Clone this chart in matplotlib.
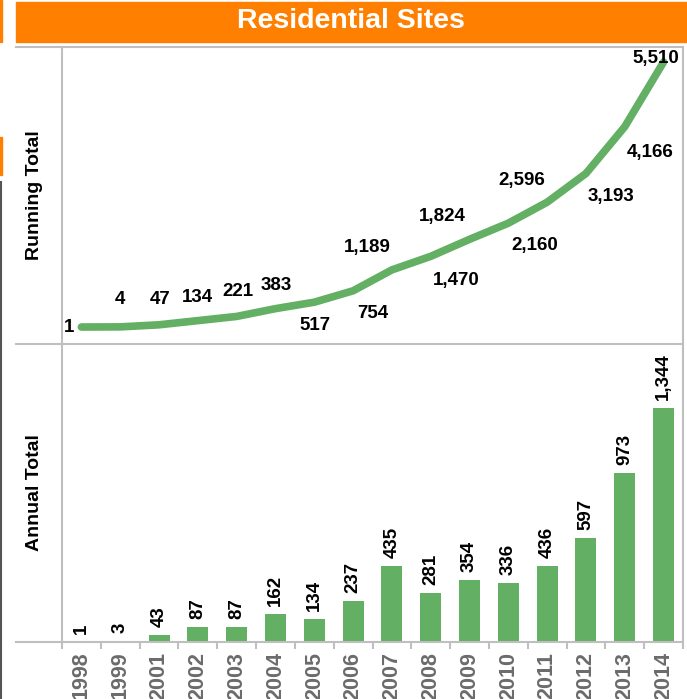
import matplotlib.pyplot as plt
from matplotlib.lines import Line2D
from matplotlib.patches import Rectangle

# data
years = ['1998', '1999', '2001', '2002', '2003', '2004', '2005', '2006',
         '2007', '2008', '2009', '2010', '2011', '2012', '2013', '2014']
running_total = [1, 4, 47, 134, 221, 383, 517, 754,
                 1189, 1470, 1824, 2160, 2596, 3193, 4166, 5510]
annual_total = [1, 3, 43, 87, 87, 162, 134, 237,
                435, 281, 354, 336, 436, 597, 973, 1344]

# label offsets (pixels) for the running total labels
label_offsets = [(-12, 0), (0, 27), (1, 25), (0, 23), (1, 25), (1, 23),
                 (1, -23), (20, -23), (-25, 22), (26, -24), (-27, 23),
                 (26, -22), (-25, 22), (25, -23), (25, -26), (-8, 4)]

ORANGE = '#FF8000'
GREEN = '#63AF63'
GRID = '#BFBFBF'
W, H = 687, 699

plt.rcParams['font.family'] = ['Liberation Sans', 'DejaVu Sans']
narrow = ['Liberation Sans Narrow', 'Liberation Sans']

fig = plt.figure(figsize=(W / 100, H / 100), dpi=100)

def fx(px):
    return px / W

def fy(py):
    return 1 - py / H

# title bar
fig.patches.append(Rectangle((fx(16), fy(42)), fx(671), 40 / H, transform=fig.transFigure,
                             color=ORANGE, zorder=0))
fig.text(fx(351), fy(21), 'Residential Sites', color='white', fontsize=20.5,
         fontweight='bold', ha='center', va='center')

# bits of the neighbouring slide at the left edge
fig.patches.append(Rectangle((0, fy(42)), fx(2), 42 / H, transform=fig.transFigure, color=ORANGE))
fig.patches.append(Rectangle((0, fy(175)), fx(2), 38 / H, transform=fig.transFigure, color=ORANGE))
fig.lines.append(Line2D([fx(0.5), fx(0.5)], [fy(182), 0], transform=fig.transFigure,
                        color='#555555', lw=1.5))

x = list(range(len(years)))

ax1 = fig.add_axes([fx(62), fy(344), fx(683 - 62), (344 - 47) / H])
ax2 = fig.add_axes([fx(62), fy(642), fx(683 - 62), (642 - 344) / H])

# running total line
ax1.plot(x, running_total, color=GREEN, lw=5.5, solid_capstyle='round', solid_joinstyle='round')
for i, v in enumerate(running_total):
    dx, dy = label_offsets[i]
    ax1.annotate(f'{v:,}', (x[i], v), xytext=(dx, dy), textcoords='offset pixels',
                 ha='center', va='center', fontsize=13.5, fontweight='bold', family=narrow)
ax1.set_xlim(-0.5, len(years) - 0.5)
ax1.set_ylim(-352, 5822)
ax1.set_xticks([])
ax1.set_yticks([])

# annual total bars
ax2.bar(x, annual_total, width=0.54, color=GREEN)
for i, v in enumerate(annual_total):
    ax2.annotate(f'{v:,}', (x[i], v), xytext=(0, 8), textcoords='offset pixels',
                 ha='center', va='bottom', rotation=90, fontsize=13.5, fontweight='bold',
                 family=narrow)
ax2.set_xlim(-0.5, len(years) - 0.5)
ax2.set_ylim(0, 1711)
ax2.set_yticks([])
ax2.set_xticks(x)
ax2.set_xticklabels(years, rotation=90, fontsize=15.5, fontweight='bold', color='#6B6B6B')
ax2.tick_params(axis='x', which='major', length=0, pad=7)
ax2.set_xticks([i - 0.5 for i in range(len(years) + 1)], minor=True)
ax2.tick_params(axis='x', which='minor', length=5, width=1.5, color=GRID)

for ax in (ax1, ax2):
    for s in ax.spines.values():
        s.set_color(GRID)
        s.set_linewidth(1.5)
ax1.spines['bottom'].set_visible(False)

ax1.set_ylabel('Running Total', fontsize=14, fontweight='bold')
ax2.set_ylabel('Annual Total', fontsize=14, fontweight='bold')
ax1.yaxis.set_label_coords(-fx(19) / ax1.get_position().width, 0.5)
ax2.yaxis.set_label_coords(-fx(19) / ax2.get_position().width, 0.5)

# horizontal rules extending left of the plot area
for py in (47, 344, 642):
    fig.lines.append(Line2D([fx(16), fx(62)], [fy(py), fy(py)], transform=fig.transFigure,
                            color=GRID, lw=1.5))

fig.savefig('out.png', dpi=100)
